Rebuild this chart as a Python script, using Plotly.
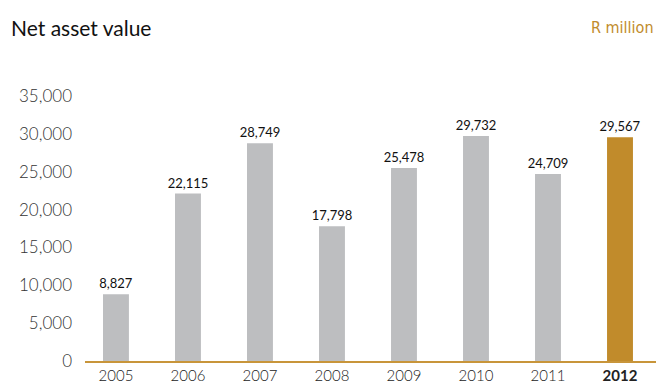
import plotly.graph_objects as go

years = ["2005", "2006", "2007", "2008", "2009", "2010", "2011", "2012"]
values = [8827, 22115, 28749, 17798, 25478, 29732, 24709, 29567]
tick_labels = ["2005", "2006", "2007", "2008", "2009", "2010", "2011", "<b>2012</b>"]
y_ticks = [0, 5000, 10000, 15000, 20000, 25000, 30000, 35000]

GRAY = "#BDBEC0"
GOLD = "#C18B2B"
colors = [GRAY] * (len(years) - 1) + [GOLD]

fig = go.Figure(go.Bar(
    x=list(range(len(years))),
    y=values,
    width=0.36,
    marker=dict(color=colors, line=dict(width=0)),
    text=[f"{v:,}" for v in values],
    textposition="outside",
    constraintext="none",
    textfont=dict(family="Lato", size=13, color="#111111"),
    cliponaxis=False,
))

pw = 659 - 85 - 3
ph = 386 - 96 - 25

def px_x(x):
    return (x - 85) / pw

def px_y(y):
    return (386 - 25 - y) / ph

fig.update_layout(
    width=659, height=386,
    margin=dict(l=85, r=3, t=96, b=25),
    paper_bgcolor="white", plot_bgcolor="white",
    showlegend=False,
    font=dict(family="Lato", color="#333333"),
    annotations=[
        dict(text="Net asset value", x=px_x(9), y=px_y(27), xref="paper", yref="paper",
             showarrow=False, xanchor="left", yanchor="middle",
             font=dict(family="Lato", size=21, color="#111111")),
        dict(text="R million", x=px_x(656), y=px_y(27), xref="paper", yref="paper",
             showarrow=False, xanchor="right", yanchor="middle",
             font=dict(family="DejaVu Sans Condensed, Lato", size=16, color=GOLD, weight=300)),
    ],
)

fig.update_xaxes(
    range=[-0.43, 7.5],
    tickmode="array", tickvals=list(range(len(years))), ticktext=tick_labels,
    showgrid=False, zeroline=False,
    showline=True, linecolor="#C8953A", linewidth=2,
    ticks="", tickfont=dict(family="Lato", size=15, color="#222222", weight=300),
)
fig.update_yaxes(
    range=[0, 35000],
    tickvals=y_ticks, ticktext=[f"{v:,}" for v in y_ticks],
    showgrid=False, zeroline=False, showline=False,
    ticks="", ticklabelstandoff=12,
    tickfont=dict(family="Lato", size=17, color="#333333", weight=300),
)

fig.write_html("out.html")
